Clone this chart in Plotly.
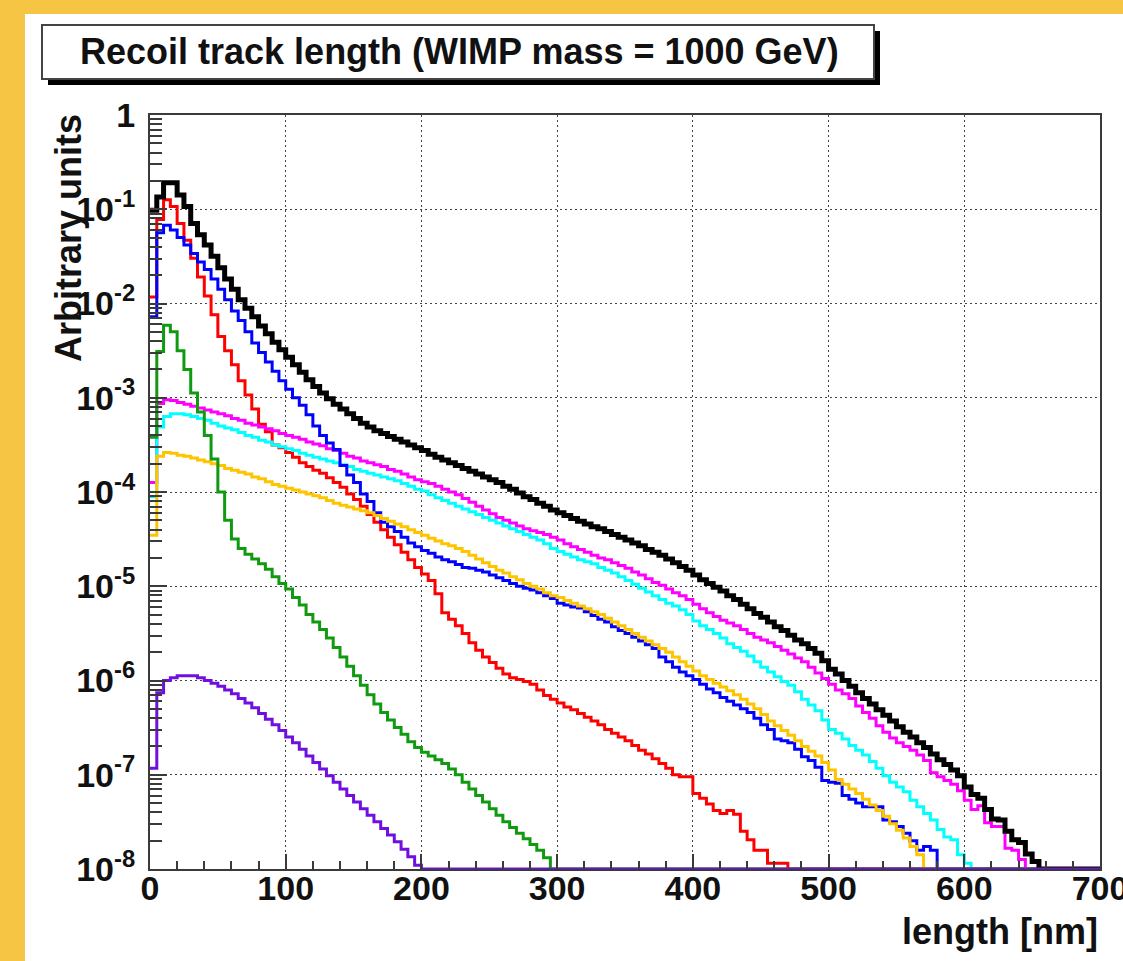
import plotly.graph_objects as go

# ---------------------------------------------------------------------------
# Histogram binning (nm) and axis ranges
# ---------------------------------------------------------------------------
BIN_WIDTH = 5
X_MIN, X_MAX = 0, 700
N_BINS = (X_MAX - X_MIN) // BIN_WIDTH
Y_MIN_EXP, Y_MAX_EXP = -8, 0

X_TICKS = [0, 100, 200, 300, 400, 500, 600, 700]
X_TICK_TEXT = ["0", "100", "200", "300", "400", "500", "600", "700"]
Y_TICK_EXPS = [-8, -7, -6, -5, -4, -3, -2, -1, 0]
Y_TICK_TEXT = ["10<sup>-8</sup>", "10<sup>-7</sup>", "10<sup>-6</sup>", "10<sup>-5</sup>",
               "10<sup>-4</sup>", "10<sup>-3</sup>", "10<sup>-2</sup>", "10<sup>-1</sup>", "1"]

TITLE = "Recoil track length (WIMP mass = 1000 GeV)"
X_TITLE = "length [nm]"
Y_TITLE = "Arbitrary units"

# ---------------------------------------------------------------------------
# Bin contents, stored as log10(arbitrary units), one value per 5 nm bin
# starting at 0 nm. Bins past the end of a list are empty.
# ---------------------------------------------------------------------------
total_log = [
    -1.01, -0.87, -0.72, -0.72, -0.85, -0.97, -1.15, -1.27, -1.38, -1.50,   # 0-50
    -1.62, -1.74, -1.85, -1.96, -2.05, -2.14, -2.24, -2.32, -2.41, -2.49,   # 50-100
    -2.57, -2.65, -2.73, -2.81, -2.88, -2.95, -3.01, -3.07, -3.12, -3.17,   # 100-150
    -3.22, -3.27, -3.31, -3.35, -3.38, -3.41, -3.44, -3.47, -3.50, -3.53,   # 150-200
    -3.56, -3.60, -3.63, -3.66, -3.69, -3.72, -3.75, -3.78, -3.81, -3.84,   # 200-250
    -3.87, -3.90, -3.94, -3.97, -4.01, -4.05, -4.08, -4.12, -4.15, -4.19,   # 250-300
    -4.22, -4.25, -4.28, -4.31, -4.34, -4.37, -4.39, -4.42, -4.45, -4.48,   # 300-350
    -4.51, -4.54, -4.57, -4.61, -4.64, -4.67, -4.71, -4.75, -4.79, -4.83,   # 350-400
    -4.88, -4.93, -4.97, -5.01, -5.05, -5.10, -5.14, -5.19, -5.24, -5.29,   # 400-450
    -5.33, -5.38, -5.43, -5.47, -5.52, -5.57, -5.61, -5.66, -5.71, -5.79,   # 450-500
    -5.88, -5.93, -6.00, -6.06, -6.13, -6.19, -6.25, -6.31, -6.37, -6.43,   # 500-550
    -6.49, -6.55, -6.60, -6.66, -6.71, -6.78, -6.84, -6.89, -6.95, -7.01,   # 550-600
    -7.13, -7.21, -7.25, -7.37, -7.47, -7.48, -7.60, -7.69, -7.72, -7.84,   # 600-650
    -7.92,                                                                  # 650-655
]

red_log = [
    -1.93, -1.11, -0.90, -0.97, -1.15, -1.33, -1.52, -1.72, -1.92, -2.12,   # 0-50
    -2.35, -2.50, -2.65, -2.82, -2.97, -3.12, -3.28, -3.36, -3.50, -3.53,   # 50-100
    -3.58, -3.63, -3.69, -3.73, -3.77, -3.80, -3.85, -3.90, -3.95, -4.02,   # 100-150
    -4.08, -4.15, -4.24, -4.32, -4.40, -4.48, -4.56, -4.64, -4.72, -4.80,   # 150-200
    -4.87, -4.94, -5.08, -5.28, -5.35, -5.42, -5.50, -5.60, -5.68, -5.75,   # 200-250
    -5.81, -5.87, -5.93, -5.97, -5.99, -6.01, -6.04, -6.10, -6.16, -6.20,   # 250-300
    -6.24, -6.28, -6.31, -6.35, -6.39, -6.43, -6.47, -6.52, -6.56, -6.60,   # 300-350
    -6.64, -6.69, -6.74, -6.78, -6.83, -6.88, -6.93, -7.00, -7.02, -7.02,   # 350-400
    -7.20, -7.25, -7.31, -7.38, -7.41, -7.38, -7.42, -7.60, -7.69, -7.80,   # 400-450
    -7.80, -7.94, -7.94, -7.94,                                             # 450-470
]

blue_log = [
    -2.14, -1.25, -1.17, -1.22, -1.30, -1.38, -1.47, -1.56, -1.64, -1.74,   # 0-50
    -1.85, -1.96, -2.08, -2.18, -2.30, -2.42, -2.52, -2.62, -2.72, -2.82,   # 50-100
    -2.91, -3.00, -3.08, -3.18, -3.30, -3.40, -3.48, -3.55, -3.72, -3.82,   # 100-150
    -3.90, -4.02, -4.10, -4.22, -4.32, -4.37, -4.42, -4.48, -4.54, -4.58,   # 150-200
    -4.62, -4.65, -4.69, -4.72, -4.74, -4.77, -4.80, -4.81, -4.83, -4.85,   # 200-250
    -4.88, -4.91, -4.94, -4.97, -5.00, -5.02, -5.04, -5.07, -5.10, -5.13,   # 250-300
    -5.18, -5.20, -5.22, -5.23, -5.27, -5.31, -5.35, -5.38, -5.43, -5.47,   # 300-350
    -5.50, -5.54, -5.58, -5.62, -5.66, -5.75, -5.80, -5.86, -5.91, -5.95,   # 350-400
    -5.99, -6.04, -6.09, -6.13, -6.18, -6.22, -6.26, -6.30, -6.34, -6.40,   # 400-450
    -6.47, -6.52, -6.62, -6.64, -6.66, -6.73, -6.81, -6.85, -6.92, -7.06,   # 450-500
    -7.08, -7.09, -7.22, -7.26, -7.30, -7.34, -7.34, -7.34, -7.48, -7.50,   # 500-550
    -7.55, -7.62, -7.70, -7.80, -7.76, -7.80,                               # 550-580
]

green_log = [
    -3.42, -2.51, -2.23, -2.30, -2.50, -2.70, -2.95, -3.15, -3.40, -3.65,   # 0-50
    -4.00, -4.30, -4.50, -4.60, -4.66, -4.71, -4.76, -4.82, -4.90, -4.97,   # 50-100
    -5.03, -5.12, -5.20, -5.30, -5.38, -5.46, -5.55, -5.65, -5.75, -5.85,   # 100-150
    -5.95, -6.05, -6.15, -6.25, -6.34, -6.42, -6.50, -6.57, -6.65, -6.71,   # 150-200
    -6.76, -6.80, -6.84, -6.88, -6.94, -7.00, -7.08, -7.15, -7.22, -7.29,   # 200-250
    -7.36, -7.43, -7.50, -7.56, -7.62, -7.68, -7.74, -7.80, -7.88,          # 250-295
]

cyan_log = [
    -4.05, -3.31, -3.20, -3.17, -3.17, -3.18, -3.20, -3.22, -3.24, -3.27,   # 0-50
    -3.30, -3.32, -3.34, -3.37, -3.40, -3.42, -3.45, -3.47, -3.50, -3.52,   # 50-100
    -3.54, -3.56, -3.59, -3.61, -3.63, -3.65, -3.67, -3.69, -3.71, -3.73,   # 100-150
    -3.76, -3.78, -3.80, -3.82, -3.84, -3.86, -3.88, -3.91, -3.94, -3.97,   # 150-200
    -3.99, -4.03, -4.06, -4.09, -4.12, -4.15, -4.18, -4.21, -4.24, -4.27,   # 200-250
    -4.30, -4.33, -4.36, -4.39, -4.42, -4.45, -4.48, -4.51, -4.55, -4.60,   # 250-300
    -4.63, -4.66, -4.69, -4.72, -4.74, -4.76, -4.80, -4.83, -4.86, -4.90,   # 300-350
    -4.94, -4.98, -5.02, -5.06, -5.10, -5.14, -5.18, -5.21, -5.25, -5.30,   # 350-400
    -5.37, -5.42, -5.46, -5.50, -5.55, -5.61, -5.65, -5.69, -5.74, -5.80,   # 400-450
    -5.86, -5.91, -5.96, -6.01, -6.05, -6.12, -6.20, -6.26, -6.32, -6.42,   # 450-500
    -6.52, -6.56, -6.62, -6.69, -6.74, -6.79, -6.86, -6.93, -7.01, -7.08,   # 500-550
    -7.13, -7.18, -7.27, -7.34, -7.41, -7.48, -7.58, -7.66, -7.69, -7.85,   # 550-600
    -7.94,                                                                  # 600-605
]

magenta_log = [
    -3.90, -3.06, -3.02, -3.03, -3.05, -3.07, -3.09, -3.11, -3.13, -3.15,   # 0-50
    -3.17, -3.19, -3.22, -3.24, -3.27, -3.29, -3.31, -3.33, -3.35, -3.38,   # 50-100
    -3.40, -3.42, -3.44, -3.47, -3.49, -3.51, -3.54, -3.56, -3.59, -3.62,   # 100-150
    -3.64, -3.67, -3.69, -3.71, -3.73, -3.76, -3.78, -3.81, -3.84, -3.87,   # 150-200
    -3.89, -3.91, -3.94, -3.97, -4.00, -4.03, -4.07, -4.11, -4.15, -4.19,   # 200-250
    -4.23, -4.27, -4.30, -4.33, -4.36, -4.39, -4.41, -4.43, -4.45, -4.48,   # 250-300
    -4.51, -4.55, -4.58, -4.61, -4.64, -4.67, -4.70, -4.72, -4.75, -4.78,   # 300-350
    -4.81, -4.85, -4.88, -4.92, -4.96, -4.99, -5.03, -5.07, -5.10, -5.14,   # 350-400
    -5.19, -5.24, -5.28, -5.32, -5.36, -5.39, -5.42, -5.46, -5.50, -5.54,   # 400-450
    -5.57, -5.60, -5.64, -5.68, -5.72, -5.76, -5.80, -5.86, -5.92, -5.98,   # 450-500
    -6.04, -6.10, -6.14, -6.19, -6.27, -6.34, -6.40, -6.48, -6.55, -6.61,   # 500-550
    -6.66, -6.70, -6.74, -6.79, -6.85, -6.98, -7.02, -7.06, -7.10, -7.17,   # 550-600
    -7.27, -7.37, -7.33, -7.51, -7.55, -7.55, -7.78, -7.80, -7.90,          # 600-645
]

orange_log = [
    -4.46, -3.62, -3.58, -3.59, -3.61, -3.62, -3.64, -3.66, -3.68, -3.70,   # 0-50
    -3.72, -3.75, -3.77, -3.79, -3.81, -3.84, -3.86, -3.89, -3.92, -3.94,   # 50-100
    -3.96, -3.98, -4.00, -4.02, -4.04, -4.06, -4.09, -4.12, -4.14, -4.16,   # 100-150
    -4.18, -4.20, -4.22, -4.25, -4.28, -4.31, -4.34, -4.37, -4.40, -4.43,   # 150-200
    -4.46, -4.49, -4.52, -4.55, -4.57, -4.60, -4.63, -4.67, -4.71, -4.75,   # 200-250
    -4.79, -4.83, -4.86, -4.90, -4.93, -4.97, -5.00, -5.03, -5.07, -5.10,   # 250-300
    -5.12, -5.15, -5.18, -5.21, -5.24, -5.27, -5.30, -5.34, -5.38, -5.42,   # 300-350
    -5.46, -5.50, -5.54, -5.58, -5.62, -5.66, -5.70, -5.75, -5.80, -5.85,   # 350-400
    -5.90, -5.95, -5.99, -6.03, -6.07, -6.11, -6.15, -6.20, -6.25, -6.30,   # 400-450
    -6.36, -6.43, -6.48, -6.53, -6.58, -6.64, -6.70, -6.75, -6.80, -6.87,   # 450-500
    -6.95, -7.05, -7.10, -7.15, -7.20, -7.26, -7.32, -7.38, -7.44, -7.52,   # 500-550
    -7.59, -7.67, -7.76, -7.85,                                             # 550-570
]

violet_log = [
    -6.93, -6.13, -6.00, -5.97, -5.95, -5.95, -5.95, -5.97, -6.00, -6.03,   # 0-50
    -6.06, -6.10, -6.14, -6.19, -6.24, -6.29, -6.35, -6.41, -6.47, -6.53,   # 50-100
    -6.60, -6.66, -6.73, -6.80, -6.87, -6.94, -7.01, -7.08, -7.15, -7.22,   # 100-150
    -7.29, -7.36, -7.43, -7.50, -7.57, -7.64, -7.71, -7.79, -7.87, -7.96,   # 150-200
]

# drawing order (later entries on top), colour, line width
SERIES = [
    ("red", red_log, "#FF0000", 3),
    ("magenta", magenta_log, "#FF00FF", 3),
    ("cyan", cyan_log, "#00FFFF", 3),
    ("blue", blue_log, "#0000FF", 3),
    ("orange", orange_log, "#FFC400", 3),
    ("green", green_log, "#109A10", 3),
    ("total", total_log, "#000000", 5),
    ("violet", violet_log, "#7010E0", 3),
]


def bin_contents(log_vals):
    vals = [10.0 ** v for v in log_vals]
    return vals + [0.0] * (N_BINS - len(vals))


def step_points(contents):
    """Histogram outline: left bin edges + final right edge, drawn with 'hv'.
    Empty bins sit on the axis minimum, as in a ROOT log-scale frame."""
    floor = 10.0 ** Y_MIN_EXP
    edges = [X_MIN + i * BIN_WIDTH for i in range(N_BINS + 1)]
    ys = [max(c, floor) for c in contents]
    return edges, ys + [ys[-1]]


fig = go.Figure()
for name, logs, color, width in SERIES:
    xs, ys = step_points(bin_contents(logs))
    fig.add_trace(go.Scatter(
        x=xs, y=ys, mode="lines", name=name,
        line=dict(color=color, width=width, shape="hv"),
        hoverinfo="skip",
    ))

# ---------------------------------------------------------------------------
# Page geometry (pixels) -> paper coordinates
# ---------------------------------------------------------------------------
W, H = 1123, 961
PL, PR, PT, PB = 150, 1100, 115, 869   # plot frame in pixels


def px(x):
    return (x - PL) / (PR - PL)


def py(y):
    return (PB - y) / (PB - PT)


FONT = "Liberation Sans, Arial, Helvetica, sans-serif"
AXIS_COL = "#3a3a3a"
GRID_COL = "#444444"
GRID_DASH = "2px,3px"

minor_y = [k * 10.0 ** e for e in range(Y_MIN_EXP, Y_MAX_EXP) for k in range(2, 10)]

fig.update_layout(
    width=W, height=H, autosize=False,
    margin=dict(l=PL, r=W - PR, t=PT, b=H - PB, pad=0),
    paper_bgcolor="#F6C544",
    plot_bgcolor="#FFFFFF",
    showlegend=False,
    xaxis=dict(
        range=[X_MIN, X_MAX], automargin=False,
        tickmode="array", tickvals=X_TICKS, ticktext=X_TICK_TEXT,
        ticks="inside", ticklen=15, tickwidth=2, tickcolor=AXIS_COL,
        showline=True, linecolor=AXIS_COL, linewidth=2, mirror=True,
        showgrid=True, gridcolor=GRID_COL, gridwidth=1, griddash=GRID_DASH,
        zeroline=False, ticklabeloverflow="allow", ticklabelstandoff=-12,
        tickfont=dict(family=FONT, size=34, color="#111111", weight="bold"),
        minor=dict(ticks="inside", ticklen=8, tickwidth=2, tickcolor=AXIS_COL,
                   tick0=0, dtick=20, showgrid=False),
    ),
    yaxis=dict(
        type="log", range=[Y_MIN_EXP, Y_MAX_EXP], automargin=False,
        tickmode="array", tickvals=[10.0 ** e for e in Y_TICK_EXPS], ticktext=Y_TICK_TEXT,
        ticks="inside", ticklen=17, tickwidth=2, tickcolor=AXIS_COL,
        showline=True, linecolor=AXIS_COL, linewidth=2, mirror=True,
        showgrid=True, gridcolor=GRID_COL, gridwidth=1, griddash=GRID_DASH,
        zeroline=False, ticklabelstandoff=6, ticklabeloverflow="allow",
        tickfont=dict(family=FONT, size=34, color="#111111", weight="bold"),
        minor=dict(ticks="inside", ticklen=12, tickwidth=2, tickcolor=AXIS_COL,
                   tickmode="array", tickvals=minor_y, showgrid=False),
    ),
)

# white canvas inside the coloured page border
fig.add_shape(type="rect", xref="paper", yref="paper",
              x0=px(25), x1=px(W + 5), y0=py(H + 5), y1=py(14),
              fillcolor="#FFFFFF", line=dict(width=0), layer="below")

# title box with drop shadow
fig.add_shape(type="rect", xref="paper", yref="paper",
              x0=px(48), x1=px(880), y0=py(85), y1=py(31),
              fillcolor="#000000", line=dict(width=0), layer="above")
fig.add_shape(type="rect", xref="paper", yref="paper",
              x0=px(42), x1=px(874), y0=py(79), y1=py(25),
              fillcolor="#FFFFFF", line=dict(color="#444444", width=2), layer="above")
fig.add_annotation(xref="paper", yref="paper", x=px(459), y=py(51),
                   text=TITLE, showarrow=False, xanchor="center", yanchor="middle",
                   font=dict(family=FONT, size=36, color="#111111", weight="bold"))

# axis titles, ROOT-style right/top aligned
fig.add_annotation(xref="paper", yref="paper", x=px(1100), y=py(931),
                   text=X_TITLE, showarrow=False, xanchor="right", yanchor="middle",
                   font=dict(family=FONT, size=36, color="#111111", weight="bold"))
fig.add_annotation(xref="paper", yref="paper", x=px(68), y=py(112),
                   text=Y_TITLE, showarrow=False, textangle=-90,
                   xanchor="center", yanchor="top",
                   font=dict(family=FONT, size=36, color="#111111", weight="bold"))

fig.write_html("out.html")
